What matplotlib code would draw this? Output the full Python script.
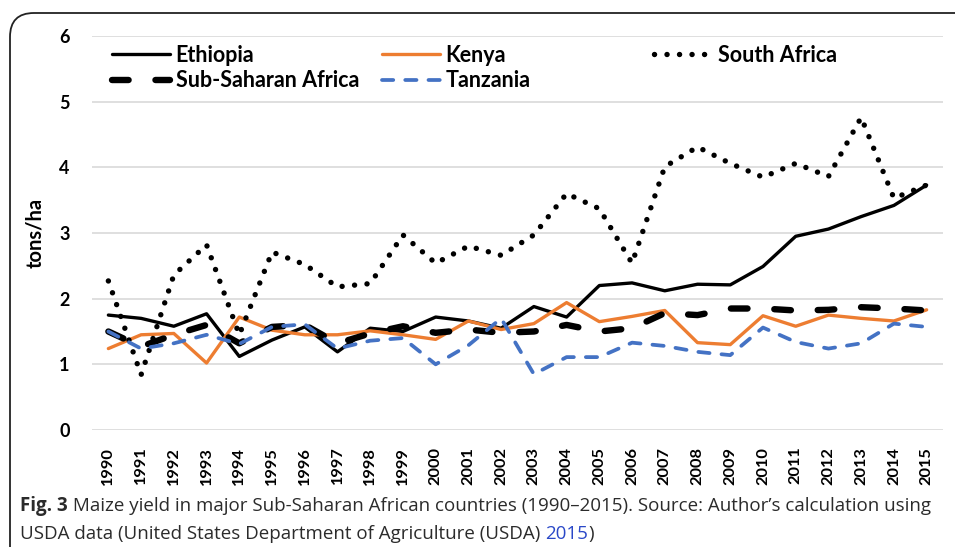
import matplotlib
matplotlib.use("Agg")
import matplotlib.pyplot as plt
from matplotlib.patches import FancyBboxPatch
from matplotlib.lines import Line2D

years = [str(y) for y in range(1990, 2016)]
ethiopia = [1.75, 1.70, 1.58, 1.77, 1.12, 1.37, 1.57, 1.19, 1.55, 1.50, 1.72, 1.66, 1.55,
            1.88, 1.72, 2.20, 2.24, 2.12, 2.22, 2.21, 2.49, 2.95, 3.06, 3.25, 3.42, 3.73]
kenya = [1.24, 1.45, 1.47, 1.02, 1.72, 1.52, 1.45, 1.45, 1.51, 1.45, 1.38, 1.66, 1.53,
         1.62, 1.94, 1.65, 1.73, 1.82, 1.33, 1.30, 1.74, 1.58, 1.75, 1.70, 1.66, 1.83]
south_africa = [2.27, 0.84, 2.36, 2.82, 1.45, 2.71, 2.52, 2.18, 2.23, 2.97, 2.54, 2.80, 2.66,
                2.97, 3.60, 3.37, 2.54, 4.01, 4.31, 4.06, 3.85, 4.06, 3.86, 4.76, 3.53, 3.73]
ssa = [1.50, 1.27, 1.45, 1.60, 1.32, 1.57, 1.60, 1.32, 1.47, 1.58, 1.48, 1.53, 1.48,
       1.50, 1.60, 1.50, 1.55, 1.78, 1.75, 1.85, 1.85, 1.82, 1.83, 1.87, 1.85, 1.82]
tanzania = [1.50, 1.24, 1.32, 1.45, 1.31, 1.57, 1.61, 1.24, 1.36, 1.40, 1.00, 1.29, 1.70,
            0.85, 1.11, 1.11, 1.33, 1.28, 1.19, 1.14, 1.56, 1.34, 1.24, 1.32, 1.62, 1.57]
y_ticks = [0, 1, 2, 3, 4, 5, 6]

FONT = ["Lato", "DejaVu Sans"]
plt.rcParams["font.family"] = FONT

W, H = 955, 547
fig = plt.figure(figsize=(W / 100, H / 100), dpi=100)
fig.patch.set_facecolor("white")

def fx(px):
    return px / W

def fy(py):
    return 1 - py / H

ax = fig.add_axes([fx(92), fy(430), fx(943) - fx(92), fy(36) - fy(430)])
x = list(range(len(years)))

styles = {
    "Ethiopia": dict(color="black", lw=2.4, ls="-"),
    "Kenya": dict(color="#ED7D31", lw=2.4, ls="-"),
    "South Africa": dict(color="black", lw=3.9, ls=(0, (0.01, 2.3))),
    "Sub-Saharan Africa": dict(color="black", lw=4.6, ls=(0, (2.6, 4.2))),
    "Tanzania": dict(color="#4472C4", lw=2.7, ls=(0, (3.0, 3.2))),
}
series = {
    "Ethiopia": ethiopia,
    "Kenya": kenya,
    "South Africa": south_africa,
    "Sub-Saharan Africa": ssa,
    "Tanzania": tanzania,
}
for name, vals in series.items():
    st = styles[name]
    ax.plot(x, vals, color=st["color"], lw=st["lw"], linestyle=st["ls"],
            solid_capstyle="round", dash_capstyle="round", solid_joinstyle="round",
            zorder=3)

ax.set_xlim(-0.5, len(years) - 0.5)
ax.set_ylim(0, 6)
ax.set_yticks(y_ticks)
ax.set_yticklabels([str(t) for t in y_ticks], fontsize=13, fontweight="bold")
ax.set_xticks(x)
ax.set_xticklabels(years, rotation=90, fontsize=11.8, fontweight="bold")
ax.tick_params(axis="both", length=0)
ax.tick_params(axis="y", pad=16)
ax.tick_params(axis="x", pad=12)
for s in ax.spines.values():
    s.set_visible(False)
ax.grid(axis="y", color="#D9D9D9", lw=1.2, zorder=0)
ax.set_axisbelow(True)
ax.set_ylabel("tons/ha", fontsize=14.5, fontweight="bold", labelpad=10)

LEG_SIZE = 15.5

def make_leg(names, xpx):
    hs = []
    for n in names:
        st = styles[n]
        hs.append(Line2D([], [], color=st["color"], lw=st["lw"], linestyle=st["ls"],
                         solid_capstyle="round", dash_capstyle="round"))
    leg = fig.legend(hs, names, loc="upper left", bbox_to_anchor=(fx(xpx), fy(45)),
                     bbox_transform=fig.transFigure, frameon=False, handlelength=2.7,
                     handletextpad=0.25, borderpad=0, borderaxespad=0, labelspacing=0.2,
                     prop=dict(family=FONT, weight="bold", size=LEG_SIZE))
    return leg

make_leg(["Ethiopia", "Sub-Saharan Africa"], 112)
make_leg(["Kenya", "Tanzania"], 382)
make_leg(["South Africa"], 654)

# outer frame (rounded, left and top edges visible)
frame = FancyBboxPatch((fx(10), -0.2), 1.2, fy(13) + 0.2,
                       boxstyle="round,pad=0,rounding_size=0.025",
                       transform=fig.transFigure, fill=False, ec="#222222", lw=1.3,
                       mutation_aspect=W / H)
fig.patches.append(frame)

# caption
fig.canvas.draw()
renderer = fig.canvas.get_renderer()
cap_font = ["Open Sans", "DejaVu Sans"]
col = "#2B2B2B"

line1 = [("Fig. 3", dict(fontweight="bold", color=col)),
         (" Maize yield in major Sub-Saharan African countries (1990\u20132015). Source: Author\u2019s calculation using",
          dict(color=col))]
line2 = [("USDA data (United States Department of Agriculture (USDA) ", dict(color=col)),
         ("2015", dict(color="#2A48C8")),
         (")", dict(color=col))]

def chain(parts, x0px, ypx, size):
    xcur = fx(x0px)
    made = []
    for txt, kw in parts:
        t = fig.text(xcur, fy(ypx), txt, ha="left", va="baseline", fontsize=size,
                     family=cap_font, **kw)
        bb = t.get_window_extent(renderer=renderer)
        xcur = bb.x1 / W
        made.append(t)
    return xcur * W, made

# fit line 1 width to the reference (~907 px)
end, made = chain(line1, 20, 511, 13.0)
size = 13.0 * (927 - 20) / (end - 20)
for t in made:
    t.remove()
chain(line1, 20, 511, size)
chain(line2, 20, 539, size)

fig.savefig("out.png", dpi=100)
